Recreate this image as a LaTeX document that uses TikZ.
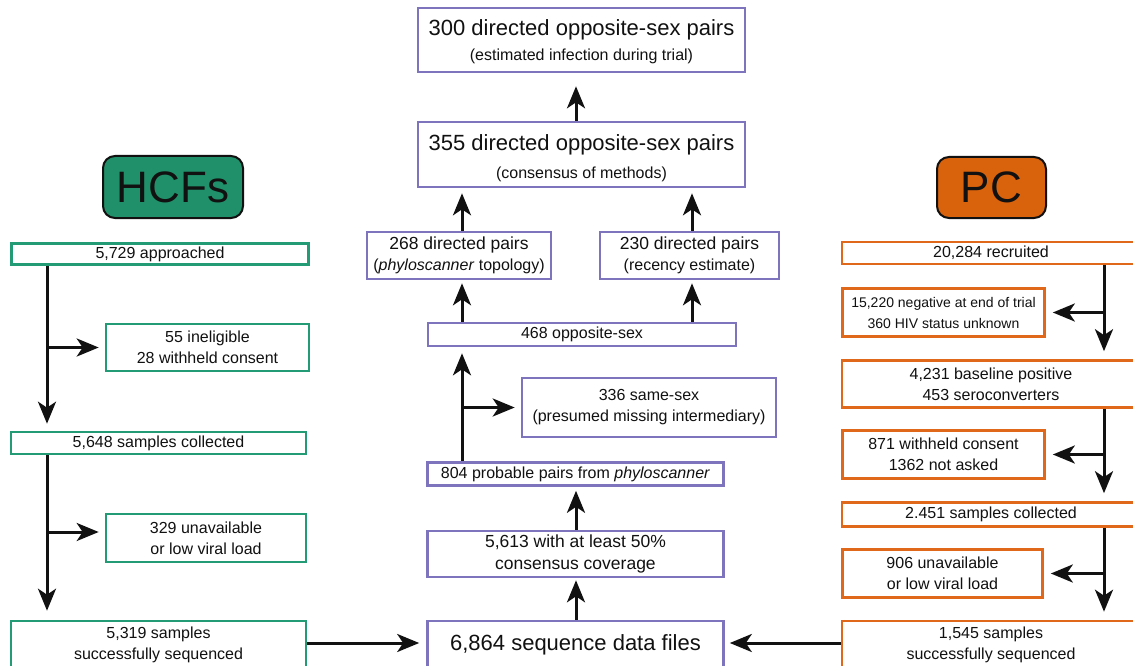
\documentclass[tikz,border=0pt]{standalone}
\usepackage{fontspec}
\setmainfont{Liberation Sans}
\usetikzlibrary{arrows.meta}
\newcommand\fsz[2]{\fontsize{#1}{#2}\selectfont}
\definecolor{txt}{HTML}{111111}
\definecolor{hgreen}{HTML}{239B75}
\definecolor{hfill}{HTML}{1F9069}
\definecolor{ppl}{HTML}{7D74BD}
\definecolor{org}{HTML}{E0681A}
\definecolor{ofill}{HTML}{D9620C}
\tikzset{
  box/.style={draw, line width=2.6pt, fill=white, inner sep=0pt, align=center, text=txt, font=\fsz{16}{21}},
  gbox/.style={box, draw=hgreen},
  pbox/.style={box, draw=ppl},
  obox/.style={box, draw=org},
  arr/.style={line width=3pt, draw=txt, -{Stealth[length=22pt,width=18pt,inset=6pt]}, shorten >=5pt},
  lbl/.style={draw=txt, line width=2pt, rounded corners=12pt, inner sep=0pt, font=\fsz{44}{48}, text=txt}
}
\begin{document}
\begin{tikzpicture}[x=1pt,y=-1pt]
\useasboundingbox (0,0) rectangle (1133,666);
\clip (0,0) rectangle (1133,666);

% group labels
\node[lbl, fill=hfill, minimum width=140, minimum height=62] (hcf) at (173,187) {HCFs};
\node[lbl, fill=ofill, minimum width=109, minimum height=61] (pc) at (991.5,187.5) {PC};

% left column
\node[gbox, minimum width=297, minimum height=21] (a1) at (160,254) {5,729 approached};
\node[gbox, minimum width=203, minimum height=47] (a2) at (207.5,347.5) {55 ineligible\\28 withheld consent};
\node[gbox, minimum width=295, minimum height=22] (a3) at (158.5,443) {5,648 samples collected};
\node[gbox, minimum width=200, minimum height=48] (a4) at (206,538) {329 unavailable\\or low viral load};
\node[gbox, minimum width=295, minimum height=48] (a5) at (158.5,645) {5,319 samples\\successfully sequenced};

% centre column
\node[pbox, minimum width=327, minimum height=64, font=\fsz{22}{25}] (c1) at (581.5,40)
  {\rule{0pt}{18.5pt}300 directed opposite-sex pairs\\{\fsz{16}{25}(estimated infection during trial)}};
\node[pbox, minimum width=327, minimum height=65, font=\fsz{22}{28}] (c2) at (581.5,154.5)
  {\rule{0pt}{22.5pt}355 directed opposite-sex pairs\\{\fsz{16}{28}(consensus of methods)}};
\node[pbox, minimum width=184, minimum height=47, font=\fsz{17.5}{21}] (c3) at (459,255.5)
  {268 directed pairs\\{\fsz{16}{21}(\textit{phyloscanner} topology)}};
\node[pbox, minimum width=179, minimum height=47, font=\fsz{17.5}{21}] (c4) at (689.5,255.5)
  {230 directed pairs\\{\fsz{16}{21}(recency estimate)}};
\node[pbox, minimum width=308, minimum height=23] (c5) at (582,334.5) {468 opposite-sex};
\node[pbox, minimum width=254, minimum height=59] (c6) at (649,407.5)
  {336 same-sex\\(presumed missing intermediary)};
\node[pbox, minimum width=296, minimum height=23] (c7) at (575.5,474)
  {804 probable pairs from \textit{phyloscanner}};
\node[pbox, minimum width=296, minimum height=46, font=\fsz{17.5}{22}] (c8) at (575.5,554)
  {5,613 with at least 50\%\\consensus coverage};
\node[pbox, minimum width=296, minimum height=48, font=\fsz{22}{26}] (c9) at (575.5,645)
  {6,864 sequence data files};

% right column
\node[obox, minimum width=298, minimum height=22] (b1) at (991,253) {20,284 recruited};
\node[obox, minimum width=202, minimum height=48, font=\fsz{14}{21}] (b2) at (943.5,312.5)
  {15,220 negative at end of trial\\360 HIV status unknown};
\node[obox, minimum width=298, minimum height=47] (b3) at (991,384)
  {4,231 baseline positive\\453 seroconverters};
\node[obox, minimum width=202, minimum height=48] (b4) at (943.5,454.5)
  {871 withheld consent\\1362 not asked};
\node[obox, minimum width=298, minimum height=24] (b5) at (991,514.5) {2.451 samples collected};
\node[obox, minimum width=200, minimum height=48] (b6) at (942.5,573.5)
  {906 unavailable\\or low viral load};
\node[obox, minimum width=298, minimum height=48] (b7) at (991,645)
  {1,545 samples\\successfully sequenced};

% trunk positions
\coordinate (tl) at (47,0);
\coordinate (cl) at (462,0);
\coordinate (cm) at (576,0);
\coordinate (cr) at (692,0);
\coordinate (tr) at (1104,0);

% left arrows
\draw[arr, shorten >=7pt] (a1.south -| tl) -- (a3.north -| tl);
\draw[arr, shorten >=6pt] (a2.west -| tl) -- (a2.west);
\draw[arr, shorten >=9pt] (a3.south -| tl) -- (a5.north -| tl);
\draw[arr, shorten >=6pt] ([yshift=6pt]a4.west -| tl) -- ([yshift=6pt]a4.west);

% centre arrows
\draw[arr, shorten >=13pt] (c2.north -| cm) -- (c1.south -| cm);
\draw[arr] (c3.north -| cl) -- (c2.south -| cl);
\draw[arr] (c4.north -| cr) -- (c2.south -| cr);
\draw[arr, shorten >=3pt] (c5.north -| cl) -- (c3.south -| cl);
\draw[arr, shorten >=3pt] (c5.north -| cr) -- (c4.south -| cr);
\draw[arr, shorten >=6pt] (c7.north -| cl) -- (c5.south -| cl);
\draw[arr, shorten >=6pt] (c6.west -| cl) -- (c6.west);
\draw[arr, shorten >=4pt] (c8.north -| cm) -- (c7.south -| cm);
\draw[arr, shorten >=2pt] (c9.north -| cm) -- (c8.south -| cm);
\draw[arr, shorten >=7pt] ([yshift=2pt]a5.east) -- ([yshift=2pt]c9.west);
\draw[arr, shorten >=5pt] ([yshift=2pt]b7.west) -- ([yshift=2pt]c9.east);

% right arrows
\draw[arr, shorten >=8pt] (b1.south -| tr) -- (b3.north -| tr);
\draw[arr, shorten >=7pt] (b2.east -| tr) -- (b2.east);
\draw[arr, shorten >=8pt] (b3.south -| tr) -- (b5.north -| tr);
\draw[arr, shorten >=7pt] (b4.east -| tr) -- (b4.east);
\draw[arr, shorten >=8pt] (b5.south -| tr) -- (b7.north -| tr);
\draw[arr, shorten >=7pt] (b6.east -| tr) -- (b6.east);
\end{tikzpicture}
\end{document}
